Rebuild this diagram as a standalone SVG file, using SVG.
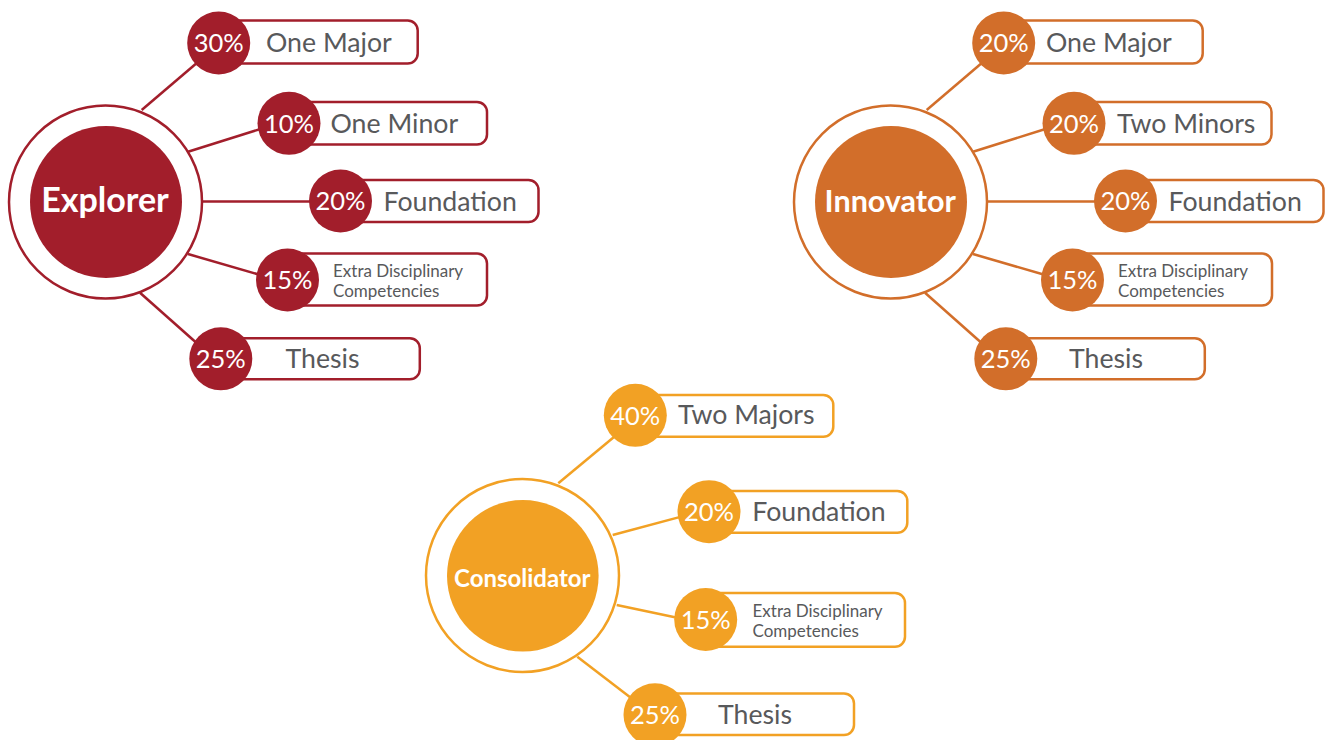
<svg xmlns="http://www.w3.org/2000/svg" width="1328" height="740" viewBox="0 0 1328 740">
<style>
.lbl{font-family:Lato,"Liberation Sans",sans-serif;font-size:26.7px;fill:#58595B}
.sm{font-family:Lato,"Liberation Sans",sans-serif;font-size:17px;fill:#58595B}
.pct{font-family:Lato,"Liberation Sans",sans-serif;font-size:25.5px;fill:#fff;text-anchor:middle}
.hub{font-family:Lato,"Liberation Sans",sans-serif;font-weight:bold;fill:#fff;text-anchor:middle}
.ring{fill:#fff;stroke-width:2.5}
.box{fill:#fff;stroke-width:2.5}
.ln{stroke-width:2.5;fill:none}
.r1{stroke:#A21E2B}.f1{fill:#A21E2B}
.r2{stroke:#D26E2A}.f2{fill:#D26E2A}
.r3{stroke:#F2A124}.f3{fill:#F2A124}
</style>
<rect width="1328" height="740" fill="#fff"/>
<g id="connectors">
<g class="ln r1">
<line x1="141.7" y1="110" x2="205" y2="56"/>
<line x1="188" y1="151.7" x2="262" y2="128.5"/>
<line x1="202" y1="201.5" x2="315" y2="201.5"/>
<line x1="188" y1="254" x2="262" y2="275.5"/>
<line x1="140" y1="292.7" x2="200" y2="346"/>
</g>
<g class="ln r2">
<line x1="926.7" y1="110" x2="990" y2="56"/>
<line x1="973" y1="151.7" x2="1047" y2="128.5"/>
<line x1="987" y1="201.5" x2="1100" y2="201.5"/>
<line x1="973" y1="254" x2="1047" y2="275.5"/>
<line x1="925" y1="292.7" x2="985" y2="346"/>
</g>
<g class="ln r3">
<line x1="558.3" y1="483.3" x2="620" y2="432"/>
<line x1="612.7" y1="535" x2="685" y2="515.6"/>
<line x1="616.7" y1="605" x2="682" y2="618.8"/>
<line x1="577.3" y1="656.7" x2="635" y2="701"/>
</g>
</g>

<g id="explorer">
<circle class="ring r1" cx="105.5" cy="202" r="96.5"/>
<circle class="f1" cx="106" cy="202" r="76"/>
<text class="hub" x="105" y="211.5" font-size="34">Explorer</text>
</g>
<g id="exp-major">
<rect class="box r1" x="218.7" y="20.5" width="199" height="43" rx="10"/>
<circle class="f1" cx="218.7" cy="43" r="31.5"/>
<text class="pct" x="218.7" y="52">30%</text>
<text class="lbl" x="266" y="52">One Major</text>
</g>
<g id="exp-minor">
<rect class="box r1" x="289" y="102" width="198" height="42.5" rx="10"/>
<circle class="f1" cx="289" cy="123.3" r="31.5"/>
<text class="pct" x="289" y="132.5">10%</text>
<text class="lbl" x="330.5" y="132.7">One Minor</text>
</g>
<g id="exp-foundation">
<rect class="box r1" x="340.5" y="180" width="198" height="42" rx="10"/>
<circle class="f1" cx="340.5" cy="201" r="31.5"/>
<text class="pct" x="340.5" y="210.3">20%</text>
<text class="lbl" x="383.5" y="210.7">Foundation</text>
</g>
<g id="exp-extra">
<rect class="box r1" x="287.5" y="253.5" width="199.5" height="52" rx="10"/>
<circle class="f1" cx="287.5" cy="280" r="31.5"/>
<text class="pct" x="287.5" y="289.3">15%</text>
<text class="sm" x="333" y="277.3">Extra Disciplinary</text>
<text class="sm" x="333" y="296.5">Competencies</text>
</g>
<g id="exp-thesis">
<rect class="box r1" x="220.8" y="338.3" width="199" height="41" rx="10"/>
<circle class="f1" cx="220.8" cy="358.8" r="31.5"/>
<text class="pct" x="220.8" y="368">25%</text>
<text class="lbl" x="285.5" y="368.3">Thesis</text>
</g>

<g id="innovator">
<circle class="ring r2" cx="890.5" cy="202" r="96.5"/>
<circle class="f2" cx="891" cy="202" r="76"/>
<text class="hub" x="890.3" y="212.3" font-size="30.5">Innovator</text>
</g>
<g id="inn-major">
<rect class="box r2" x="1003.7" y="20.5" width="199" height="43" rx="10"/>
<circle class="f2" cx="1003.7" cy="43" r="31.5"/>
<text class="pct" x="1003.7" y="52">20%</text>
<text class="lbl" x="1046" y="52">One Major</text>
</g>
<g id="inn-minors">
<rect class="box r2" x="1074" y="102" width="197.5" height="42.5" rx="10"/>
<circle class="f2" cx="1074" cy="123.3" r="31.5"/>
<text class="pct" x="1074" y="132.5">20%</text>
<text class="lbl" x="1117" y="132.7">Two Minors</text>
</g>
<g id="inn-foundation">
<rect class="box r2" x="1125.5" y="180" width="198" height="42" rx="10"/>
<circle class="f2" cx="1125.5" cy="201" r="31.5"/>
<text class="pct" x="1125.5" y="210.3">20%</text>
<text class="lbl" x="1168.5" y="210.7">Foundation</text>
</g>
<g id="inn-extra">
<rect class="box r2" x="1072.5" y="253.5" width="199.5" height="52" rx="10"/>
<circle class="f2" cx="1072.5" cy="280" r="31.5"/>
<text class="pct" x="1072.5" y="289.3">15%</text>
<text class="sm" x="1118" y="277.3">Extra Disciplinary</text>
<text class="sm" x="1118" y="296.5">Competencies</text>
</g>
<g id="inn-thesis">
<rect class="box r2" x="1005.8" y="338.3" width="199" height="41" rx="10"/>
<circle class="f2" cx="1005.8" cy="358.8" r="31.5"/>
<text class="pct" x="1005.8" y="368">25%</text>
<text class="lbl" x="1069" y="368.3">Thesis</text>
</g>

<g id="consolidator">
<circle class="ring r3" cx="522.5" cy="575.5" r="96.5"/>
<circle class="f3" cx="522.8" cy="575.8" r="75.8"/>
<text class="hub" x="522.3" y="587.3" font-size="24">Consolidator</text>
</g>
<g id="con-majors">
<rect class="box r3" x="635.3" y="395" width="198" height="41.7" rx="10"/>
<circle class="f3" cx="635.3" cy="415.3" r="31.5"/>
<text class="pct" x="635.3" y="424.5">40%</text>
<text class="lbl" x="678" y="424">Two Majors</text>
</g>
<g id="con-foundation">
<rect class="box r3" x="709" y="491" width="198.3" height="41.7" rx="10"/>
<circle class="f3" cx="709" cy="511.7" r="31.5"/>
<text class="pct" x="709" y="521">20%</text>
<text class="lbl" x="752.3" y="520.5">Foundation</text>
</g>
<g id="con-extra">
<rect class="box r3" x="705.7" y="593" width="199.3" height="53.7" rx="10"/>
<circle class="f3" cx="705.7" cy="619.5" r="31.5"/>
<text class="pct" x="705.7" y="628.8">15%</text>
<text class="sm" x="752.5" y="616.7">Extra Disciplinary</text>
<text class="sm" x="752.5" y="636.7">Competencies</text>
</g>
<g id="con-thesis">
<rect class="box r3" x="655" y="693.5" width="199" height="41.5" rx="10"/>
<circle class="f3" cx="655" cy="714.8" r="31.5"/>
<text class="pct" x="655" y="724">25%</text>
<text class="lbl" x="718" y="723.5">Thesis</text>
</g>
</svg>
